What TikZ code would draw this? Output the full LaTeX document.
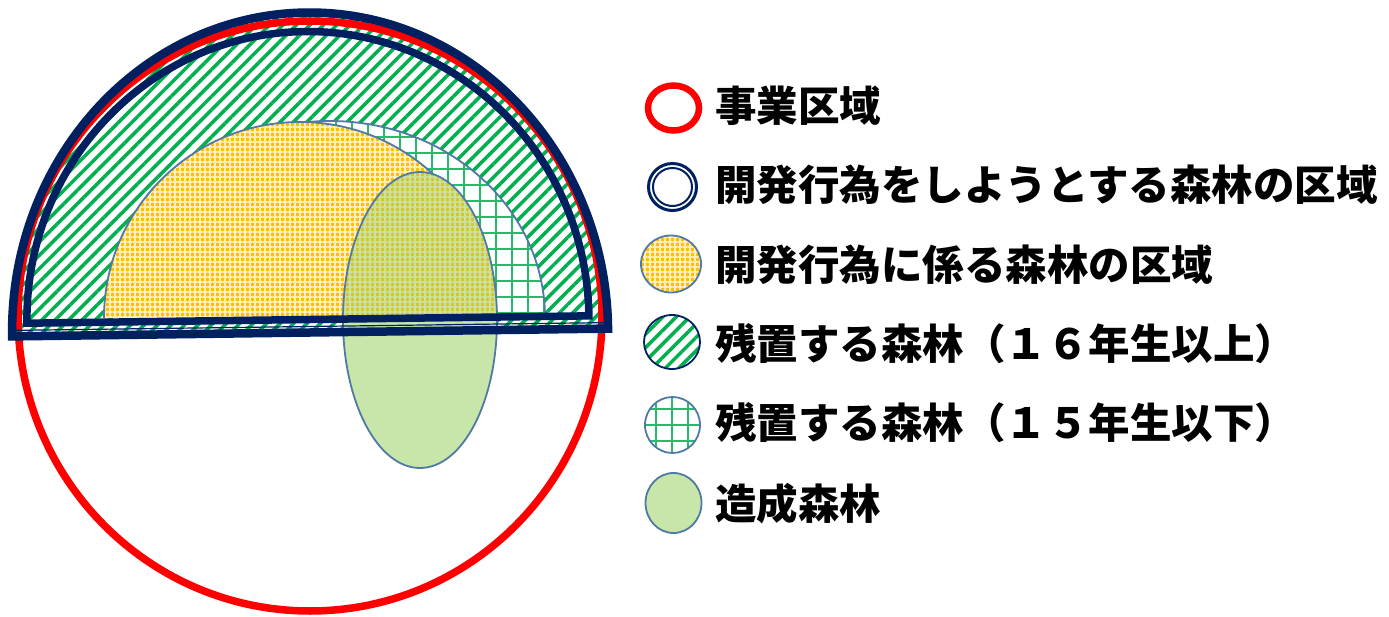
\documentclass[tikz,border=0pt]{standalone}
\usepackage{fontspec}
\newfontfamily\jp{Noto Sans CJK JP}
\usetikzlibrary{patterns.meta}
\definecolor{navy}{HTML}{002060}
\definecolor{hgreen}{HTML}{00B050}
\definecolor{sblue}{HTML}{5079A3}
\definecolor{gold}{HTML}{FFC000}
\definecolor{lgreen}{HTML}{C8E6AA}
\definecolor{olive}{HTML}{D0C82C}
\definecolor{oldot}{HTML}{CCE0A0}
\tikzset{
 hatchfill/.style={preaction={fill=white}, pattern={Lines[angle=45,distance=9.5pt,line width=3.5pt]}, pattern color=hgreen},
 gridfill/.style={preaction={fill=white}, pattern={Hatch[distance=16pt,line width=1.8pt]}, pattern color=hgreen!85!white},
 goldfill/.style={preaction={fill=gold}, pattern={Hatch[distance=5pt,line width=1.1pt]}, pattern color=white!75!gold},
 olivefill/.style={preaction={fill=olive}, pattern={Hatch[distance=5pt,line width=1.1pt]}, pattern color=oldot},
 outl/.style={draw=sblue, line width=1.8pt},
 lbl/.style={anchor=base west, inner sep=0pt, font=\jp\bfseries\fontsize{41.5}{48}\selectfont},
}
\begin{document}
\begin{tikzpicture}[x=1pt,y=-1pt]
\useasboundingbox (0,0) rectangle (1389,617);
% hatched region (development site)
\begin{scope}[rotate around={0.75:(310,326)}]
 \path[hatchfill] (12,332.5) arc[start angle=180,end angle=360,x radius=298,y radius=320] -- cycle;
\end{scope}
% grid region
\path[gridfill] (115,318) arc[start angle=180,end angle=360,x radius=215,y radius=197] -- cycle;
\draw[outl] (115,318) arc[start angle=180,end angle=360,x radius=215,y radius=197];
% yellow region
\path[goldfill] (104,318) arc[start angle=180,end angle=360,x radius=196,y radius=196] -- cycle;
\draw[outl] (104,318) arc[start angle=180,end angle=360,x radius=196,y radius=196];
% green ellipse
\path[fill=lgreen] (420,320) ellipse[x radius=77,y radius=148];
\begin{scope}
 \clip (0,0) rectangle (1389,320);
 \path[olivefill] (420,320) ellipse[x radius=77,y radius=148];
\end{scope}
\draw[outl] (420,320) ellipse[x radius=77,y radius=148];
% red circle
\draw[red, line width=7.5pt] (310,316) ellipse[x radius=292,y radius=295];
% navy double outline
\begin{scope}[rotate around={0.75:(310,326)}]
 \draw[navy, line width=8.5pt] (12,332.5) arc[start angle=180,end angle=360,x radius=298,y radius=320] -- cycle;
 \draw[navy, line width=7.5pt] (27,319.5) arc[start angle=180,end angle=360,x radius=281,y radius=288] -- cycle;
 \draw[navy, line width=1.2pt] (16,326.5) -- (604,326.5);
\end{scope}
% legend symbols
\draw[red, line width=6.5pt] (673.5,108) ellipse[x radius=25.5,y radius=22.5];
\draw[navy, line width=3pt] (672.5,187) ellipse[x radius=24,y radius=23.5];
\draw[navy, line width=2pt] (672.5,187) ellipse[x radius=19.5,y radius=19];
\path[goldfill, outl] (671,264) ellipse[x radius=30,y radius=28.5];
\path[hatchfill, draw=navy, line width=1.8pt] (672,342) ellipse[x radius=28,y radius=27];
\path[gridfill, outl] (672.5,425) ellipse[x radius=27.5,y radius=28];
\path[fill=lgreen, outl] (673.5,503) ellipse[x radius=28,y radius=30];
% legend texts
\node[lbl] (t1) at (715,121.3) {事業区域};
\node[lbl] (t2) at (715,200.3) {開発行為をしようとする森林の区域};
\node[lbl] (t3) at (715,280.8) {開発行為に係る森林の区域};
\node[lbl] (t4) at (715,359.3) {残置する森林（１６年生以上）};
\node[lbl] (t5) at (715,438.3) {残置する森林（１５年生以下）};
\node[lbl] (t6) at (715,519.3) {造成森林};
\end{tikzpicture}
\end{document}
